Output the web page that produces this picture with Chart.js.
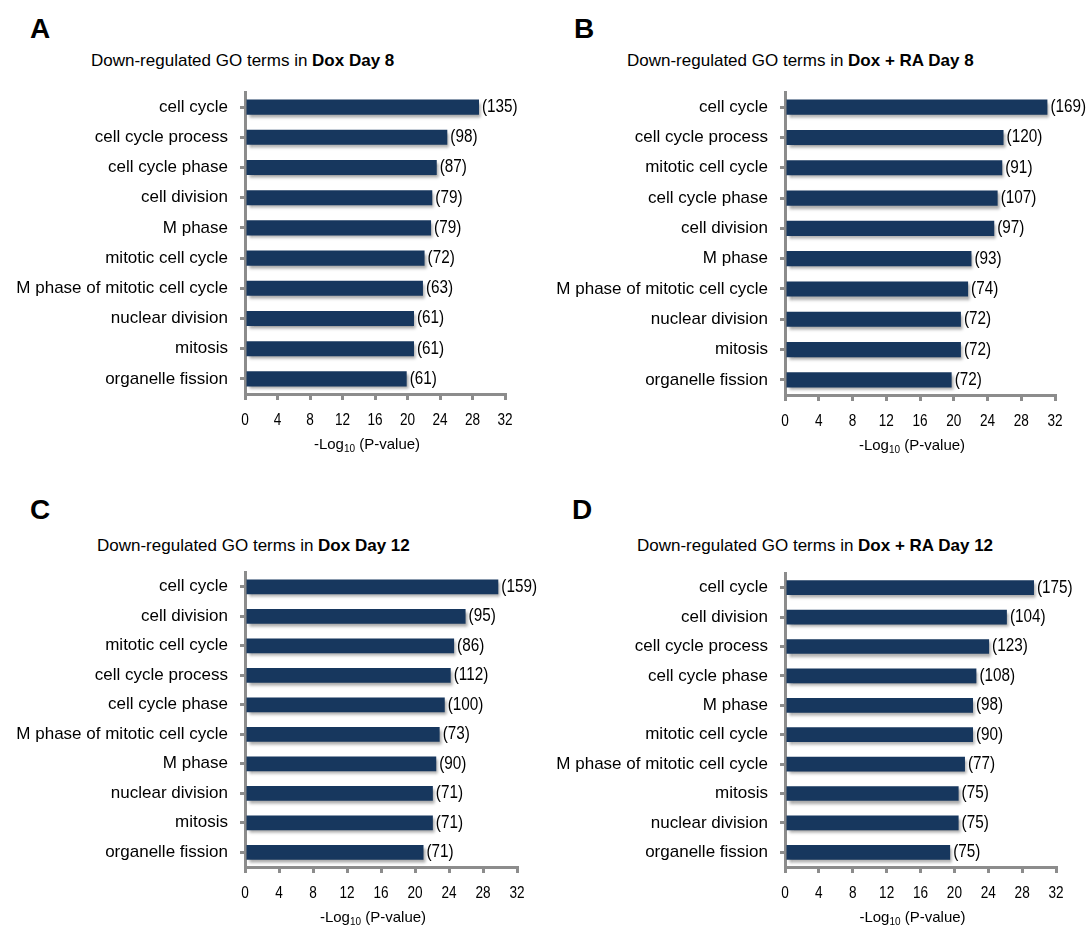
<!DOCTYPE html>
<html>
<head>
<meta charset="utf-8">
<script src="https://cdn.jsdelivr.net/npm/chart.js@4"></script>
<style>
  body { margin:0; background:#fff; width:1091px; height:926px; position:relative; overflow:hidden;
         font-family:"Liberation Sans", Arial, sans-serif; color:#000; }
  canvas { position:absolute; }
  .lt { position:absolute; font-size:28px; line-height:28px; font-weight:bold; }
  .ttl { position:absolute; font-size:17px; line-height:17px; white-space:nowrap; }
</style>
</head>
<body>
<div class="lt" style="left:30px;top:15px">A</div>
<div class="lt" style="left:574px;top:15px">B</div>
<div class="lt" style="left:30px;top:496px">C</div>
<div class="lt" style="left:572px;top:496px">D</div>

<div class="ttl" style="left:91px;top:52px">Down-regulated GO terms in <b>Dox Day 8</b></div>
<div class="ttl" style="left:627px;top:52px">Down-regulated GO terms in <b>Dox + RA Day 8</b></div>
<div class="ttl" style="left:97px;top:537px">Down-regulated GO terms in <b>Dox Day 12</b></div>
<div class="ttl" style="left:637px;top:537px">Down-regulated GO terms in <b>Dox + RA Day 12</b></div>

<canvas id="plot-a" width="540" height="385" style="left:0px;top:80px"></canvas>
<canvas id="plot-b" width="551" height="385" style="left:540px;top:80px"></canvas>
<canvas id="plot-c" width="551" height="366" style="left:0px;top:560px"></canvas>
<canvas id="plot-d" width="551" height="366" style="left:540px;top:560px"></canvas>

<script>
// data: -log10(P) and gene counts per GO term

const termsA = ['cell cycle','cell cycle process','cell cycle phase','cell division','M phase',
  'mitotic cell cycle','M phase of mitotic cell cycle','nuclear division','mitosis','organelle fission'];
const valuesA = [28.8, 24.9, 23.6, 23.05, 22.9, 22.1, 21.9, 20.8, 20.8, 19.9];
const countsA = [135, 98, 87, 79, 79, 72, 63, 61, 61, 61];

const termsB = ['cell cycle','cell cycle process','mitotic cell cycle','cell cycle phase','cell division',
  'M phase','M phase of mitotic cell cycle','nuclear division','mitosis','organelle fission'];
const valuesB = [31.1, 25.9, 25.75, 25.2, 24.8, 22.1, 21.7, 20.85, 20.85, 19.75];
const countsB = [169, 120, 91, 107, 97, 93, 74, 72, 72, 72];

const termsC = ['cell cycle','cell division','mitotic cell cycle','cell cycle process','cell cycle phase',
  'M phase of mitotic cell cycle','M phase','nuclear division','mitosis','organelle fission'];
const valuesC = [29.8, 25.95, 24.6, 24.2, 23.5, 22.9, 22.5, 22.1, 22.1, 21.0];
const countsC = [159, 95, 86, 112, 100, 73, 90, 71, 71, 71];

const termsD = ['cell cycle','cell division','cell cycle process','cell cycle phase','M phase',
  'mitotic cell cycle','M phase of mitotic cell cycle','mitosis','nuclear division','organelle fission'];
const valuesD = [29.4, 26.2, 24.1, 22.6, 22.2, 22.2, 21.25, 20.5, 20.5, 19.5];
const countsD = [175, 104, 123, 108, 98, 90, 77, 75, 75, 75];

const xTicks = [0, 4, 8, 12, 16, 20, 24, 28, 32];

const AXIS_GREY = '#8c8c8c';
const BAR_BLUE = '#17375e';
const SANS = "'Liberation Sans', Arial, sans-serif";

// the figure uses a condensed face for numbers, squeeze the text horizontally
function narrowText(ctx, text, x, y, sx) {
  ctx.save();
  ctx.translate(x, y);
  ctx.scale(sx, 1);
  ctx.fillText(text, 0, 0);
  ctx.restore();
}

// shadow under bars + "(n)" labels + x tick numbers + -Log10 axis title
const extras = {
  id: 'extras',
  beforeDatasetsDraw(chart) {
    let ctx = chart.ctx;
    ctx.save();
    ctx.shadowColor = 'rgba(0,0,0,0.35)';
    ctx.shadowOffsetX = 2;
    ctx.shadowOffsetY = 3;
    ctx.shadowBlur = 3;
  },
  afterDatasetsDraw(chart) {
    let ctx = chart.ctx;
    ctx.restore();
    let counts = chart.options.plugins.extras.counts;
    let area = chart.chartArea;
    ctx.save();
    ctx.fillStyle = '#000';
    ctx.textBaseline = 'middle';

    ctx.font = "18px " + SANS;
    ctx.textAlign = 'left';
    chart.getDatasetMeta(0).data.forEach((bar, i) => {
      narrowText(ctx, '(' + counts[i] + ')', bar.x + 3, bar.y, 0.85);
    });

    let xs = chart.scales.x;
    ctx.font = "17px " + SANS;
    ctx.textAlign = 'center';
    xTicks.forEach(v => {
      narrowText(ctx, String(v), xs.getPixelForValue(v), area.bottom + 26, 0.8);
    });

    // axis title with subscript
    ctx.textAlign = 'left';
    let y = area.bottom + 51;
    let a = '-Log', sub = '10', b = ' (P-value)';
    ctx.font = "15px " + SANS;
    let wa = ctx.measureText(a).width, wb = ctx.measureText(b).width;
    ctx.font = "10px " + SANS;
    let ws = ctx.measureText(sub).width;
    let x = (area.left + area.right) / 2 - 8 - (wa + ws + wb) / 2;
    ctx.font = "15px " + SANS;
    ctx.fillText(a, x, y);
    ctx.font = "10px " + SANS;
    ctx.fillText(sub, x + wa, y + 4);
    ctx.font = "15px " + SANS;
    ctx.fillText(b, x + wa + ws, y);
    ctx.restore();
  }
};

function makePlot(id, terms, values, counts, pad, xAxisHeight) {
  return new Chart(id, {
    type: 'bar',
    data: {
      labels: terms,
      datasets: [{
        data: values,
        backgroundColor: BAR_BLUE,
        borderWidth: 0,
        barPercentage: 0.5,
        categoryPercentage: 1
      }]
    },
    plugins: [extras],
    options: {
      indexAxis: 'y',
      responsive: false,
      animation: false,
      layout: { padding: pad },
      plugins: {
        legend: { display: false },
        tooltip: { enabled: false },
        extras: { counts: counts }
      },
      scales: {
        x: {
          min: 0,
          max: 32,
          afterBuildTicks(scale) { scale.ticks = xTicks.map(v => ({ value: v })); },
          afterFit(scale) {
            scale.height = xAxisHeight;
            scale.paddingLeft = 0;
            scale.paddingRight = 0;
          },
          grid: { drawOnChartArea: false, drawTicks: true, tickLength: 6, lineWidth: 3, color: AXIS_GREY },
          border: { display: true, color: AXIS_GREY, width: 3 },
          ticks: { display: false }
        },
        y: {
          z: 1,
          afterFit(scale) {
            scale.width = 245;
            scale.paddingTop = 0;
            scale.paddingBottom = 0;
          },
          grid: { offset: false, drawOnChartArea: false, drawTicks: true, tickLength: 5, lineWidth: 3, color: AXIS_GREY },
          border: { display: true, color: AXIS_GREY, width: 3 },
          ticks: { color: '#000', padding: 12, font: { family: SANS, size: 17 } }
        }
      }
    }
  });
}

makePlot('plot-a', termsA, valuesA, countsA, { top: 12, right: 35, left: 0, bottom: 0 }, 71);
makePlot('plot-b', termsB, valuesB, countsB, { top: 12, right: 36, left: 0, bottom: 0 }, 70);
makePlot('plot-c', termsC, valuesC, countsC, { top: 12, right: 34, left: 0, bottom: 0 }, 59);
makePlot('plot-d', termsD, valuesD, countsD, { top: 13, right: 35, left: 0, bottom: 0 }, 59);
</script>
</body>
</html>
